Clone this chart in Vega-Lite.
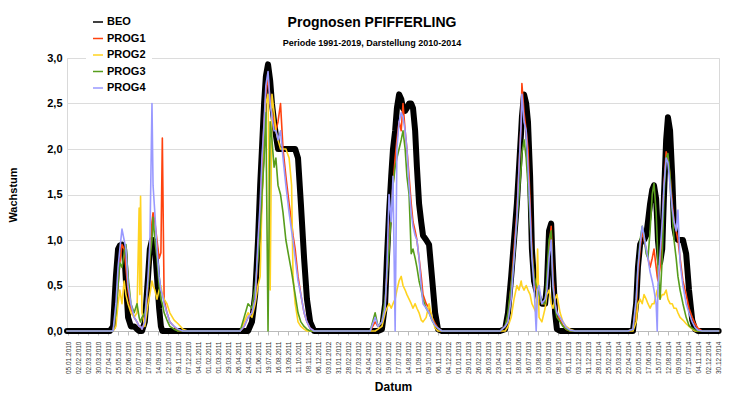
{
  "$schema": "https://vega.github.io/schema/vega-lite/v6.json",
  "width": 652,
  "height": 273,
  "autosize": {"type": "none"},
  "padding": {"left": 67, "top": 58, "right": 11, "bottom": 65},
  "background": "white",
  "config": {"view": {"stroke": "#d9d9d9"}, "font": "Liberation Sans"},
  "title": {"text": "Prognosen PFIFFERLING", "subtitle": "Periode 1991-2019, Darstellung 2010-2014", "fontSize": 14, "fontWeight": "bold", "color": "black", "subtitleFontSize": 9, "subtitleFontWeight": "bold", "subtitleColor": "black", "subtitleFont": "Liberation Sans", "anchor": "middle", "offset": -38, "subtitlePadding": 9, "dx": -21},
  "data": {"values": [
    {"d":"2010-01-01","BEO":0,"PROG1":0,"PROG2":0,"PROG3":0,"PROG4":0},
    {"d":"2010-04-17","BEO":0,"PROG1":0,"PROG2":0,"PROG3":0,"PROG4":0},
    {"d":"2010-05-01","BEO":0,"PROG1":0,"PROG2":0,"PROG3":0,"PROG4":0},
    {"d":"2010-05-10","BEO":0.05,"PROG1":0,"PROG2":0,"PROG3":0,"PROG4":0},
    {"d":"2010-05-18","BEO":0.6,"PROG1":0.2,"PROG2":0.05,"PROG3":0.2,"PROG4":0.3},
    {"d":"2010-05-24","BEO":0.9,"PROG1":0.5,"PROG2":0.3,"PROG3":0.5,"PROG4":0.7},
    {"d":"2010-05-29","BEO":0.94,"PROG1":0.75,"PROG2":0.45,"PROG3":0.75,"PROG4":0.9},
    {"d":"2010-06-04","BEO":0.95,"PROG1":0.95,"PROG2":0.3,"PROG3":0.7,"PROG4":1.12},
    {"d":"2010-06-10","BEO":0.9,"PROG1":0.9,"PROG2":0.55,"PROG3":0.85,"PROG4":1.0},
    {"d":"2010-06-15","BEO":0.55,"PROG1":0.7,"PROG2":0.4,"PROG3":0.95,"PROG4":0.9},
    {"d":"2010-06-21","BEO":0.15,"PROG1":0.45,"PROG2":0.3,"PROG3":0.6,"PROG4":0.5},
    {"d":"2010-06-29","BEO":0.05,"PROG1":0.25,"PROG2":0.2,"PROG3":0.3,"PROG4":0.3},
    {"d":"2010-07-08","BEO":0.05,"PROG1":0.15,"PROG2":0.15,"PROG3":0.2,"PROG4":0.15},
    {"d":"2010-07-16","BEO":0.02,"PROG1":0.1,"PROG2":0.2,"PROG3":0.3,"PROG4":0.1},
    {"d":"2010-07-22","BEO":0,"PROG1":0.05,"PROG2":1.35,"PROG3":0.15,"PROG4":0.05},
    {"d":"2010-07-24","BEO":0,"PROG1":0.05,"PROG2":0.4,"PROG3":0.12,"PROG4":0.05},
    {"d":"2010-07-26","BEO":0,"PROG1":0.05,"PROG2":1.48,"PROG3":0.1,"PROG4":0.05},
    {"d":"2010-07-30","BEO":0,"PROG1":0.02,"PROG2":0.2,"PROG3":0.15,"PROG4":0.02},
    {"d":"2010-08-07","BEO":0.1,"PROG1":0.1,"PROG2":0.05,"PROG3":0.2,"PROG4":0.1},
    {"d":"2010-08-16","BEO":0.6,"PROG1":0.5,"PROG2":0.3,"PROG3":0.5,"PROG4":0.6},
    {"d":"2010-08-21","BEO":0.9,"PROG1":0.8,"PROG2":0.4,"PROG3":0.8,"PROG4":0.95},
    {"d":"2010-08-27","BEO":1.0,"PROG1":1.2,"PROG2":0.55,"PROG3":1.0,"PROG4":2.5},
    {"d":"2010-08-30","BEO":1.0,"PROG1":1.3,"PROG2":0.5,"PROG3":1.25,"PROG4":1.6},
    {"d":"2010-09-04","BEO":0.95,"PROG1":1.2,"PROG2":0.45,"PROG3":1.0,"PROG4":1.3},
    {"d":"2010-09-10","BEO":0.6,"PROG1":1.0,"PROG2":0.35,"PROG3":0.8,"PROG4":0.9},
    {"d":"2010-09-16","BEO":0.25,"PROG1":0.8,"PROG2":0.45,"PROG3":0.5,"PROG4":0.6},
    {"d":"2010-09-21","BEO":0.05,"PROG1":0.86,"PROG2":0.5,"PROG3":0.35,"PROG4":0.45},
    {"d":"2010-09-25","BEO":0,"PROG1":2.12,"PROG2":0.4,"PROG3":0.3,"PROG4":0.4},
    {"d":"2010-09-30","BEO":0,"PROG1":0.35,"PROG2":0.35,"PROG3":0.2,"PROG4":0.3},
    {"d":"2010-10-08","BEO":0,"PROG1":0.2,"PROG2":0.3,"PROG3":0.12,"PROG4":0.2},
    {"d":"2010-10-16","BEO":0,"PROG1":0.1,"PROG2":0.2,"PROG3":0.05,"PROG4":0.1},
    {"d":"2010-10-28","BEO":0,"PROG1":0.05,"PROG2":0.12,"PROG3":0.02,"PROG4":0.05},
    {"d":"2010-11-08","BEO":0,"PROG1":0,"PROG2":0.08,"PROG3":0,"PROG4":0.02},
    {"d":"2010-11-22","BEO":0,"PROG1":0,"PROG2":0.02,"PROG3":0,"PROG4":0},
    {"d":"2010-12-05","BEO":0,"PROG1":0,"PROG2":0,"PROG3":0,"PROG4":0},
    {"d":"2011-05-01","BEO":0,"PROG1":0,"PROG2":0,"PROG3":0,"PROG4":0},
    {"d":"2011-05-12","BEO":0,"PROG1":0.05,"PROG2":0.1,"PROG3":0.15,"PROG4":0.05},
    {"d":"2011-05-23","BEO":0,"PROG1":0.15,"PROG2":0.2,"PROG3":0.3,"PROG4":0.15},
    {"d":"2011-06-03","BEO":0.1,"PROG1":0.2,"PROG2":0.15,"PROG3":0.25,"PROG4":0.2},
    {"d":"2011-06-12","BEO":0.4,"PROG1":0.35,"PROG2":0.3,"PROG3":0.5,"PROG4":0.35},
    {"d":"2011-06-20","BEO":1.0,"PROG1":0.9,"PROG2":0.5,"PROG3":0.8,"PROG4":1.0},
    {"d":"2011-06-26","BEO":1.6,"PROG1":1.3,"PROG2":0.6,"PROG3":1.1,"PROG4":1.4},
    {"d":"2011-07-01","BEO":2.0,"PROG1":1.8,"PROG2":1.4,"PROG3":1.5,"PROG4":1.9},
    {"d":"2011-07-07","BEO":2.5,"PROG1":2.3,"PROG2":2.0,"PROG3":1.9,"PROG4":2.3},
    {"d":"2011-07-12","BEO":2.8,"PROG1":2.6,"PROG2":2.5,"PROG3":2.4,"PROG4":2.7},
    {"d":"2011-07-18","BEO":2.93,"PROG1":2.8,"PROG2":2.6,"PROG3":0,"PROG4":2.85},
    {"d":"2011-07-24","BEO":2.75,"PROG1":2.5,"PROG2":0.45,"PROG3":2.3,"PROG4":2.5},
    {"d":"2011-07-29","BEO":2.5,"PROG1":2.4,"PROG2":2.6,"PROG3":2.1,"PROG4":2.35},
    {"d":"2011-08-04","BEO":2.3,"PROG1":2.3,"PROG2":2.4,"PROG3":1.8,"PROG4":2.2},
    {"d":"2011-08-09","BEO":2.15,"PROG1":2.2,"PROG2":2.2,"PROG3":1.9,"PROG4":2.2},
    {"d":"2011-08-15","BEO":2.0,"PROG1":2.3,"PROG2":2.1,"PROG3":1.6,"PROG4":2.1},
    {"d":"2011-08-22","BEO":2.0,"PROG1":2.5,"PROG2":2.0,"PROG3":1.5,"PROG4":2.2},
    {"d":"2011-08-29","BEO":2.0,"PROG1":2.0,"PROG2":2.0,"PROG3":1.3,"PROG4":1.9},
    {"d":"2011-09-06","BEO":2.0,"PROG1":1.7,"PROG2":2.0,"PROG3":1.0,"PROG4":1.6},
    {"d":"2011-09-15","BEO":2.0,"PROG1":1.4,"PROG2":1.9,"PROG3":0.8,"PROG4":1.3},
    {"d":"2011-09-22","BEO":2.0,"PROG1":1.2,"PROG2":1.6,"PROG3":0.65,"PROG4":1.1},
    {"d":"2011-09-26","BEO":2.0,"PROG1":1.05,"PROG2":0.6,"PROG3":0.55,"PROG4":1.0},
    {"d":"2011-10-02","BEO":2.0,"PROG1":0.9,"PROG2":0.3,"PROG3":0.4,"PROG4":0.8},
    {"d":"2011-10-10","BEO":1.9,"PROG1":0.6,"PROG2":0.1,"PROG3":0.2,"PROG4":0.55},
    {"d":"2011-10-18","BEO":1.4,"PROG1":0.4,"PROG2":0.05,"PROG3":0.1,"PROG4":0.4},
    {"d":"2011-10-27","BEO":0.8,"PROG1":0.2,"PROG2":0.02,"PROG3":0.05,"PROG4":0.2},
    {"d":"2011-11-04","BEO":0.35,"PROG1":0.1,"PROG2":0,"PROG3":0.02,"PROG4":0.1},
    {"d":"2011-11-13","BEO":0.1,"PROG1":0.03,"PROG2":0,"PROG3":0,"PROG4":0.03},
    {"d":"2011-11-24","BEO":0,"PROG1":0,"PROG2":0,"PROG3":0,"PROG4":0},
    {"d":"2012-04-29","BEO":0,"PROG1":0,"PROG2":0,"PROG3":0,"PROG4":0},
    {"d":"2012-05-13","BEO":0,"PROG1":0.1,"PROG2":0,"PROG3":0.2,"PROG4":0.15},
    {"d":"2012-05-21","BEO":0,"PROG1":0.05,"PROG2":0.02,"PROG3":0.05,"PROG4":0.05},
    {"d":"2012-06-01","BEO":0.02,"PROG1":0.1,"PROG2":0.05,"PROG3":0.1,"PROG4":0.1},
    {"d":"2012-06-10","BEO":0.3,"PROG1":0.3,"PROG2":0.2,"PROG3":0.35,"PROG4":0.25},
    {"d":"2012-06-15","BEO":0.8,"PROG1":0.6,"PROG2":0.25,"PROG3":0.6,"PROG4":0.7},
    {"d":"2012-06-21","BEO":1.3,"PROG1":1.0,"PROG2":0.3,"PROG3":0.9,"PROG4":1.5},
    {"d":"2012-06-27","BEO":1.7,"PROG1":1.3,"PROG2":0.25,"PROG3":1.3,"PROG4":1.2},
    {"d":"2012-07-02","BEO":2.0,"PROG1":1.6,"PROG2":0.3,"PROG3":1.6,"PROG4":1.7},
    {"d":"2012-07-08","BEO":2.2,"PROG1":1.9,"PROG2":0.35,"PROG3":1.8,"PROG4":0},
    {"d":"2012-07-13","BEO":2.45,"PROG1":2.1,"PROG2":0.45,"PROG3":1.9,"PROG4":2.0},
    {"d":"2012-07-19","BEO":2.6,"PROG1":2.3,"PROG2":0.55,"PROG3":2.0,"PROG4":2.3},
    {"d":"2012-07-25","BEO":2.55,"PROG1":2.2,"PROG2":0.6,"PROG3":2.1,"PROG4":2.4},
    {"d":"2012-07-30","BEO":2.45,"PROG1":2.5,"PROG2":0.5,"PROG3":2.2,"PROG4":2.35},
    {"d":"2012-08-05","BEO":2.42,"PROG1":2.2,"PROG2":0.45,"PROG3":2.0,"PROG4":2.2},
    {"d":"2012-08-10","BEO":2.45,"PROG1":2.0,"PROG2":0.4,"PROG3":1.7,"PROG4":2.0},
    {"d":"2012-08-16","BEO":2.5,"PROG1":1.7,"PROG2":0.35,"PROG3":1.5,"PROG4":1.6},
    {"d":"2012-08-22","BEO":2.5,"PROG1":1.4,"PROG2":0.3,"PROG3":0.85,"PROG4":1.3},
    {"d":"2012-08-27","BEO":2.45,"PROG1":1.2,"PROG2":0.25,"PROG3":0.9,"PROG4":1.15},
    {"d":"2012-09-02","BEO":2.2,"PROG1":1.1,"PROG2":0.3,"PROG3":0.8,"PROG4":1.05},
    {"d":"2012-09-07","BEO":1.8,"PROG1":1.0,"PROG2":0.25,"PROG3":0.7,"PROG4":1.0},
    {"d":"2012-09-13","BEO":1.4,"PROG1":0.8,"PROG2":0.2,"PROG3":0.55,"PROG4":0.8},
    {"d":"2012-09-19","BEO":1.2,"PROG1":0.6,"PROG2":0.12,"PROG3":0.45,"PROG4":0.5},
    {"d":"2012-09-24","BEO":1.05,"PROG1":0.4,"PROG2":0.1,"PROG3":0.35,"PROG4":0.3},
    {"d":"2012-10-03","BEO":1.0,"PROG1":0.3,"PROG2":0.15,"PROG3":0.25,"PROG4":0.25},
    {"d":"2012-10-11","BEO":0.95,"PROG1":0.25,"PROG2":0.3,"PROG3":0.2,"PROG4":0.2},
    {"d":"2012-10-19","BEO":0.6,"PROG1":0.15,"PROG2":0.15,"PROG3":0.12,"PROG4":0.12},
    {"d":"2012-10-28","BEO":0.2,"PROG1":0.08,"PROG2":0.03,"PROG3":0.06,"PROG4":0.06},
    {"d":"2012-11-05","BEO":0.02,"PROG1":0.03,"PROG2":0,"PROG3":0.03,"PROG4":0.03},
    {"d":"2012-11-16","BEO":0,"PROG1":0,"PROG2":0,"PROG3":0,"PROG4":0},
    {"d":"2013-04-28","BEO":0,"PROG1":0,"PROG2":0,"PROG3":0,"PROG4":0},
    {"d":"2013-05-12","BEO":0.02,"PROG1":0.05,"PROG2":0,"PROG3":0.05,"PROG4":0.05},
    {"d":"2013-05-20","BEO":0.2,"PROG1":0.15,"PROG2":0.05,"PROG3":0.2,"PROG4":0.1},
    {"d":"2013-05-29","BEO":0.6,"PROG1":0.5,"PROG2":0.15,"PROG3":0.5,"PROG4":0.35},
    {"d":"2013-06-06","BEO":1.0,"PROG1":0.9,"PROG2":0.35,"PROG3":0.8,"PROG4":0.8},
    {"d":"2013-06-14","BEO":1.4,"PROG1":1.3,"PROG2":0.5,"PROG3":1.2,"PROG4":1.25},
    {"d":"2013-06-20","BEO":1.8,"PROG1":1.8,"PROG2":0.45,"PROG3":1.5,"PROG4":1.8},
    {"d":"2013-06-26","BEO":2.2,"PROG1":2.3,"PROG2":0.55,"PROG3":1.8,"PROG4":2.3},
    {"d":"2013-06-28","BEO":2.35,"PROG1":2.72,"PROG2":0.5,"PROG3":1.95,"PROG4":2.6},
    {"d":"2013-07-04","BEO":2.6,"PROG1":2.4,"PROG2":0.45,"PROG3":2.1,"PROG4":2.3},
    {"d":"2013-07-10","BEO":2.5,"PROG1":2.2,"PROG2":0.5,"PROG3":1.9,"PROG4":2.2},
    {"d":"2013-07-15","BEO":2.3,"PROG1":2.0,"PROG2":0.45,"PROG3":1.6,"PROG4":1.8},
    {"d":"2013-07-21","BEO":1.7,"PROG1":1.4,"PROG2":0.4,"PROG3":1.2,"PROG4":1.3},
    {"d":"2013-07-26","BEO":0.9,"PROG1":0.9,"PROG2":0.3,"PROG3":0.85,"PROG4":0.8},
    {"d":"2013-08-01","BEO":0.55,"PROG1":0.6,"PROG2":0.25,"PROG3":0.6,"PROG4":0.5},
    {"d":"2013-08-07","BEO":0.45,"PROG1":0.45,"PROG2":0.2,"PROG3":0.5,"PROG4":0},
    {"d":"2013-08-11","BEO":0.4,"PROG1":0.5,"PROG2":0.9,"PROG3":0.45,"PROG4":0.45},
    {"d":"2013-08-15","BEO":0.35,"PROG1":0.4,"PROG2":0.15,"PROG3":0.4,"PROG4":0.5},
    {"d":"2013-08-23","BEO":0.3,"PROG1":0.3,"PROG2":0.1,"PROG3":0.3,"PROG4":0.3},
    {"d":"2013-09-01","BEO":0.3,"PROG1":0.3,"PROG2":0.25,"PROG3":0.3,"PROG4":0.35},
    {"d":"2013-09-06","BEO":0.5,"PROG1":0.5,"PROG2":0.4,"PROG3":0.6,"PROG4":0.45},
    {"d":"2013-09-12","BEO":1.1,"PROG1":0.9,"PROG2":0.45,"PROG3":1.0,"PROG4":0.8},
    {"d":"2013-09-18","BEO":1.18,"PROG1":1.15,"PROG2":0.3,"PROG3":1.1,"PROG4":1.0},
    {"d":"2013-09-23","BEO":0.7,"PROG1":0.6,"PROG2":0.25,"PROG3":0.5,"PROG4":0.5},
    {"d":"2013-09-29","BEO":0.2,"PROG1":0.3,"PROG2":0.35,"PROG3":0.25,"PROG4":0.3},
    {"d":"2013-10-04","BEO":0.02,"PROG1":0.2,"PROG2":0.4,"PROG3":0.15,"PROG4":0.2},
    {"d":"2013-10-13","BEO":0,"PROG1":0.12,"PROG2":0.2,"PROG3":0.1,"PROG4":0.15},
    {"d":"2013-10-21","BEO":0,"PROG1":0.06,"PROG2":0.1,"PROG3":0.05,"PROG4":0.1},
    {"d":"2013-10-30","BEO":0,"PROG1":0.02,"PROG2":0.05,"PROG3":0.02,"PROG4":0.04},
    {"d":"2013-11-10","BEO":0,"PROG1":0,"PROG2":0.02,"PROG3":0,"PROG4":0.01},
    {"d":"2013-11-24","BEO":0,"PROG1":0,"PROG2":0,"PROG3":0,"PROG4":0},
    {"d":"2014-04-21","BEO":0,"PROG1":0,"PROG2":0,"PROG3":0,"PROG4":0},
    {"d":"2014-05-05","BEO":0,"PROG1":0.02,"PROG2":0,"PROG3":0.02,"PROG4":0.02},
    {"d":"2014-05-14","BEO":0.3,"PROG1":0.2,"PROG2":0.1,"PROG3":0.3,"PROG4":0.35},
    {"d":"2014-05-19","BEO":0.7,"PROG1":0.6,"PROG2":0.3,"PROG3":0.7,"PROG4":0.7},
    {"d":"2014-05-25","BEO":0.95,"PROG1":0.9,"PROG2":0.35,"PROG3":1.0,"PROG4":0.95},
    {"d":"2014-05-31","BEO":1.0,"PROG1":1.1,"PROG2":0.3,"PROG3":1.15,"PROG4":1.15},
    {"d":"2014-06-05","BEO":1.0,"PROG1":1.0,"PROG2":0.4,"PROG3":1.05,"PROG4":1.05},
    {"d":"2014-06-11","BEO":1.05,"PROG1":0.9,"PROG2":0.35,"PROG3":0.85,"PROG4":0.9},
    {"d":"2014-06-16","BEO":1.2,"PROG1":0.8,"PROG2":0.3,"PROG3":0.8,"PROG4":0.8},
    {"d":"2014-06-22","BEO":1.4,"PROG1":0.7,"PROG2":0.25,"PROG3":1.1,"PROG4":0.65},
    {"d":"2014-06-28","BEO":1.55,"PROG1":0.8,"PROG2":0.3,"PROG3":1.5,"PROG4":0.55},
    {"d":"2014-07-03","BEO":1.6,"PROG1":0.9,"PROG2":0.3,"PROG3":1.62,"PROG4":0.45},
    {"d":"2014-07-09","BEO":1.45,"PROG1":0.7,"PROG2":0.4,"PROG3":1.3,"PROG4":0.3},
    {"d":"2014-07-12","BEO":1.2,"PROG1":0.6,"PROG2":0.45,"PROG3":1.0,"PROG4":0},
    {"d":"2014-07-14","BEO":1.0,"PROG1":0.55,"PROG2":0.4,"PROG3":0.7,"PROG4":0.5},
    {"d":"2014-07-20","BEO":0.75,"PROG1":0.7,"PROG2":0.35,"PROG3":0.35,"PROG4":0.85},
    {"d":"2014-07-26","BEO":0.9,"PROG1":1.1,"PROG2":0.4,"PROG3":0.8,"PROG4":1.2},
    {"d":"2014-07-31","BEO":1.5,"PROG1":1.6,"PROG2":0.4,"PROG3":1.5,"PROG4":1.6},
    {"d":"2014-08-06","BEO":2.1,"PROG1":1.97,"PROG2":0.45,"PROG3":1.9,"PROG4":1.9},
    {"d":"2014-08-11","BEO":2.35,"PROG1":1.9,"PROG2":0.35,"PROG3":1.95,"PROG4":1.85},
    {"d":"2014-08-17","BEO":2.2,"PROG1":1.7,"PROG2":0.3,"PROG3":1.7,"PROG4":1.6},
    {"d":"2014-08-23","BEO":1.7,"PROG1":1.4,"PROG2":0.3,"PROG3":1.3,"PROG4":1.35},
    {"d":"2014-08-28","BEO":1.15,"PROG1":1.2,"PROG2":0.25,"PROG3":1.0,"PROG4":1.2},
    {"d":"2014-09-03","BEO":1.02,"PROG1":1.1,"PROG2":0.25,"PROG3":0.8,"PROG4":1.1},
    {"d":"2014-09-08","BEO":1.0,"PROG1":1.0,"PROG2":0.2,"PROG3":0.6,"PROG4":1.33},
    {"d":"2014-09-14","BEO":1.0,"PROG1":0.8,"PROG2":0.15,"PROG3":0.45,"PROG4":0.75},
    {"d":"2014-09-22","BEO":1.0,"PROG1":0.55,"PROG2":0.12,"PROG3":0.3,"PROG4":0.5},
    {"d":"2014-10-01","BEO":0.85,"PROG1":0.4,"PROG2":0.08,"PROG3":0.15,"PROG4":0.3},
    {"d":"2014-10-09","BEO":0.45,"PROG1":0.25,"PROG2":0.05,"PROG3":0.06,"PROG4":0.2},
    {"d":"2014-10-18","BEO":0.12,"PROG1":0.15,"PROG2":0.02,"PROG3":0.03,"PROG4":0.1},
    {"d":"2014-10-26","BEO":0.02,"PROG1":0.08,"PROG2":0,"PROG3":0.01,"PROG4":0.04},
    {"d":"2014-11-03","BEO":0,"PROG1":0.03,"PROG2":0,"PROG3":0,"PROG4":0.01},
    {"d":"2014-11-15","BEO":0,"PROG1":0,"PROG2":0,"PROG3":0,"PROG4":0},
    {"d":"2014-12-31","BEO":0,"PROG1":0,"PROG2":0,"PROG3":0,"PROG4":0}
  ]},
  "transform": [{"fold": ["BEO", "PROG1", "PROG2", "PROG3", "PROG4"], "as": ["series", "value"]}],
  "encoding": {
    "x": {
      "field": "d", "type": "temporal",
      "scale": {"domain": [{"year": 2010, "month": 1, "date": 1}, {"year": 2015, "month": 1, "date": 1}]},
      "axis": {
        "values": [
          {"year":2010,"month":1,"date":5},{"year":2010,"month":2,"date":2},{"year":2010,"month":3,"date":2},{"year":2010,"month":3,"date":30},{"year":2010,"month":4,"date":27},{"year":2010,"month":5,"date":25},{"year":2010,"month":6,"date":22},{"year":2010,"month":7,"date":20},{"year":2010,"month":8,"date":17},{"year":2010,"month":9,"date":14},{"year":2010,"month":10,"date":12},{"year":2010,"month":11,"date":9},{"year":2010,"month":12,"date":7},
          {"year":2011,"month":1,"date":4},{"year":2011,"month":2,"date":1},{"year":2011,"month":3,"date":1},{"year":2011,"month":3,"date":29},{"year":2011,"month":4,"date":26},{"year":2011,"month":5,"date":24},{"year":2011,"month":6,"date":21},{"year":2011,"month":7,"date":19},{"year":2011,"month":8,"date":16},{"year":2011,"month":9,"date":13},{"year":2011,"month":10,"date":11},{"year":2011,"month":11,"date":8},{"year":2011,"month":12,"date":6},
          {"year":2012,"month":1,"date":3},{"year":2012,"month":1,"date":31},{"year":2012,"month":2,"date":28},{"year":2012,"month":3,"date":27},{"year":2012,"month":4,"date":24},{"year":2012,"month":5,"date":22},{"year":2012,"month":6,"date":19},{"year":2012,"month":7,"date":17},{"year":2012,"month":8,"date":14},{"year":2012,"month":9,"date":11},{"year":2012,"month":10,"date":9},{"year":2012,"month":11,"date":6},{"year":2012,"month":12,"date":4},
          {"year":2013,"month":1,"date":1},{"year":2013,"month":1,"date":29},{"year":2013,"month":2,"date":26},{"year":2013,"month":3,"date":26},{"year":2013,"month":4,"date":23},{"year":2013,"month":5,"date":21},{"year":2013,"month":6,"date":18},{"year":2013,"month":7,"date":16},{"year":2013,"month":8,"date":13},{"year":2013,"month":9,"date":10},{"year":2013,"month":10,"date":8},{"year":2013,"month":11,"date":5},{"year":2013,"month":12,"date":3},{"year":2013,"month":12,"date":31},
          {"year":2014,"month":1,"date":28},{"year":2014,"month":2,"date":25},{"year":2014,"month":3,"date":25},{"year":2014,"month":4,"date":22},{"year":2014,"month":5,"date":20},{"year":2014,"month":6,"date":17},{"year":2014,"month":7,"date":15},{"year":2014,"month":8,"date":12},{"year":2014,"month":9,"date":9},{"year":2014,"month":10,"date":7},{"year":2014,"month":11,"date":4},{"year":2014,"month":12,"date":2},{"year":2014,"month":12,"date":30}
        ],
        "format": "%d.%m.%Y",
        "labelAngle": 270,
        "labelFontSize": 6.5,
        "labelColor": "#333333",
        "labelOverlap": false,
        "labelFlush": false,
        "labelPadding": 6,
        "grid": false,
        "domain": true,
        "domainColor": "#bbbbbb",
        "tickColor": "#bbbbbb",
        "tickSize": 4,
        "title": "Datum",
        "titleFontSize": 12,
        "titleFontWeight": "bold",
        "titleColor": "black",
        "titlePadding": 8
      }
    },
    "y": {
      "field": "value", "type": "quantitative",
      "scale": {"domain": [0, 3]},
      "axis": {
        "values": [0, 0.5, 1, 1.5, 2, 2.5, 3],
        "labelExpr": "replace(format(datum.value, '.1f'), '.', ',')",
        "labelFontSize": 11,
        "labelFontWeight": "bold",
        "labelColor": "black",
        "labelPadding": 5,
        "domain": false,
        "ticks": false,
        "gridColor": "#dcdcdc",
        "title": "Wachstum",
        "titleFontSize": 11,
        "titleFontWeight": "bold",
        "titleColor": "black",
        "titlePadding": 28
      }
    },
    "color": {
      "field": "series", "type": "nominal",
      "scale": {"domain": ["BEO", "PROG1", "PROG2", "PROG3", "PROG4"], "range": ["#000000", "#ff420e", "#ffd320", "#579d1c", "#9999ff"]},
      "legend": {
        "orient": "none", "legendX": 19, "legendY": -48, "title": null,
        "symbolType": "stroke", "symbolSize": 100, "symbolStrokeWidth": 1.5,
        "labelFontSize": 11, "labelFontWeight": "bold", "labelColor": "black",
        "rowPadding": 5.5, "labelOffset": 3, "fillColor": "white", "padding": 6
      }
    }
  },
  "layer": [
    {
      "transform": [{"filter": "datum.series === 'BEO'"}],
      "mark": {"type": "line", "strokeWidth": 6, "strokeJoin": "round", "strokeCap": "round"}
    },
    {
      "transform": [{"filter": "datum.series !== 'BEO'"}],
      "mark": {"type": "line", "strokeWidth": 1.6, "strokeJoin": "round", "strokeCap": "round"}
    }
  ]
}
